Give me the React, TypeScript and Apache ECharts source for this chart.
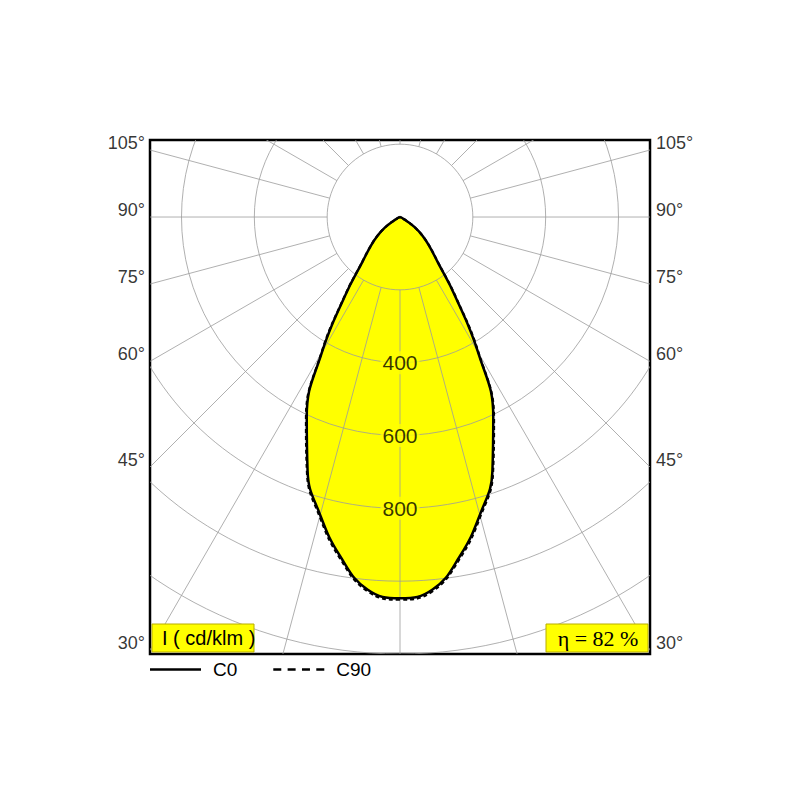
import React, { useEffect, useRef } from "react";
import * as echarts from "echarts";

// Photometric data (gamma angle from nadir, intensity in cd/klm)
const gammaAngles = [0, 5, 10, 15, 20, 25, 30, 35, 40, 45, 50, 55, 60, 65, 70, 75, 80, 85, 90];
const c0Values = [1047, 1027, 946, 847, 742, 606, 429, 262, 160, 115, 82, 50, 20, 5, 0, 0, 0, 0, 0];
const c90Values = [1051, 1031, 951, 852, 747, 611, 433, 265, 162, 116, 82, 50, 20, 5, 0, 0, 0, 0, 0];

// Grid
const ringValues = [200, 400, 600, 800, 1000, 1200, 1400];
const ringLabelValues = [400, 600, 800];
const radialAngles = [0, 15, 30, 45, 60, 75, 90, 105, 120, 135, 150, 165, 180, 195, 210, 225, 240, 255, 270, 285, 300, 315, 330, 345];
const sideAngleLabels = [105, 90, 75, 60, 45, 30];

const seriesNames = ["C0", "C90"];
const unitLabel = "I ( cd/klm )";
const efficiencyLabel = "η = 82 %";

const X_MAX = 686.5;
const Y_MIN = -1200;
const Y_MAX = 211.5;
const INNER_R = 200;
const OUTER_R = 2200;
const SMOOTH = 0.45;

const rad = (d: number) => (d * Math.PI) / 180;
const toXY = (gamma: number, I: number, side: number) => [
  side * I * Math.sin(rad(gamma)),
  -I * Math.cos(rad(gamma)),
];

function curvePoints(values: number[]) {
  const raw: number[][] = [];
  for (let i = gammaAngles.length - 1; i >= 0; i--) raw.push(toXY(gammaAngles[i], values[i], -1));
  for (let i = 1; i < gammaAngles.length; i++) raw.push(toXY(gammaAngles[i], values[i], 1));
  const pts: number[][] = [];
  raw.forEach((p) => {
    const last = pts[pts.length - 1];
    if (!last || Math.abs(last[0] - p[0]) > 1e-9 || Math.abs(last[1] - p[1]) > 1e-9) pts.push(p);
  });
  return pts;
}

const SANS = "Liberation Sans, Arial, Helvetica, sans-serif";
const SERIF = "Liberation Serif, Times New Roman, serif";
const GRID_COLOR = "#9c9c9c";

export default function App() {
  const ref = useRef<HTMLDivElement>(null);

  useEffect(() => {
    document.body.style.margin = "0";
    if (!ref.current) return;
    const chart = echarts.init(ref.current, undefined, { renderer: "svg" });

    const c0Pts = curvePoints(c0Values);
    const c90Pts = curvePoints(c90Values);

    const sideLabelData = sideAngleLabels.map((a) => [X_MAX, -X_MAX / Math.tan(rad(a)), a]);

    const option: any = {
      animation: false,
      backgroundColor: "#ffffff",
      grid: {
        left: 150,
        top: 140,
        width: 500,
        height: 514,
        show: true,
        borderColor: "#000000",
        borderWidth: 2.5,
        backgroundColor: "transparent",
      },
      xAxis: { type: "value", min: -X_MAX, max: X_MAX, show: false },
      yAxis: { type: "value", min: Y_MIN, max: Y_MAX, show: false },
      legend: {
        data: [
          { name: seriesNames[0], icon: "path://M0,0H51V2.5H0Z" },
          {
            name: seriesNames[1],
            icon: "path://M0,0H8V2.5H0ZM14.33,0H22.33V2.5H14.33ZM28.67,0H36.67V2.5H28.67ZM43,0H51V2.5H43Z",
          },
        ],
        left: 145,
        top: 655,
        itemWidth: 51,
        itemHeight: 2.5,
        itemGap: 36,
        symbolKeepAspect: false,
        textStyle: { fontSize: 19, color: "#000", fontFamily: SANS, padding: [0, 0, 0, 7] },
        selectedMode: false,
      },
      series: [
        {
          type: "line",
          name: "fill",
          z: 1,
          silent: true,
          symbol: "none",
          smooth: SMOOTH,
          data: c0Pts,
          lineStyle: { width: 0, color: "#ffff00" },
          areaStyle: { color: "#ffff00", opacity: 1 },
        },
        {
          type: "custom",
          name: "rings",
          z: 2,
          clip: true,
          silent: true,
          data: ringValues.map((v) => [v, 0]),
          renderItem: (params: any, api: any) => {
            const R = api.value(0);
            const c = api.coord([0, 0]);
            const e = api.coord([R, 0]);
            return {
              type: "circle",
              shape: { cx: c[0], cy: c[1], r: e[0] - c[0] },
              style: { fill: "none", stroke: GRID_COLOR, lineWidth: 0.8 },
            };
          },
        },
        {
          type: "custom",
          name: "radials",
          z: 2,
          clip: true,
          silent: true,
          data: radialAngles.map((a) => [a, 0]),
          renderItem: (params: any, api: any) => {
            const a = api.value(0);
            const p1 = api.coord(toXY(a, INNER_R, 1));
            const p2 = api.coord(toXY(a, OUTER_R, 1));
            return {
              type: "line",
              shape: { x1: p1[0], y1: p1[1], x2: p2[0], y2: p2[1] },
              style: { stroke: GRID_COLOR, lineWidth: 0.8 },
            };
          },
        },
        {
          type: "line",
          name: seriesNames[0],
          z: 3,
          symbol: "none",
          smooth: SMOOTH,
          data: c0Pts,
          lineStyle: { color: "#000", width: 2.5, type: "solid" },
          itemStyle: { color: "#000" },
        },
        {
          type: "line",
          name: seriesNames[1],
          z: 4,
          symbol: "none",
          smooth: SMOOTH,
          data: c90Pts,
          lineStyle: { color: "#000", width: 2.2, type: [4, 3] },
          itemStyle: { color: "#000" },
        },
        {
          type: "scatter",
          name: "ringLabels",
          z: 5,
          clip: false,
          silent: true,
          symbolSize: 0,
          data: ringLabelValues.map((v) => [0, -v, v]),
          label: {
            show: true,
            position: "inside",
            formatter: (p: any) => String(p.value[2]),
            fontSize: 21,
            color: "#000",
            fontFamily: SANS,
            backgroundColor: "#ffff00",
            padding: [1, 2],
          },
        },
        {
          type: "scatter",
          name: "leftAngleLabels",
          z: 5,
          clip: false,
          silent: true,
          symbolSize: 0,
          data: sideLabelData.map((d) => [-d[0], d[1], d[2]]),
          label: {
            show: true,
            position: "left",
            distance: 5,
            offset: [0, -7],
            formatter: (p: any) => p.value[2] + "°",
            fontSize: 18,
            color: "#000",
            fontFamily: SANS,
          },
        },
        {
          type: "scatter",
          name: "rightAngleLabels",
          z: 5,
          clip: false,
          silent: true,
          symbolSize: 0,
          data: sideLabelData,
          label: {
            show: true,
            position: "right",
            distance: 6,
            offset: [0, -7],
            formatter: (p: any) => p.value[2] + "°",
            fontSize: 18,
            color: "#000",
            fontFamily: SANS,
          },
        },
      ],
      graphic: [
        {
          type: "rect",
          z: 100,
          shape: { x: 152, y: 624, width: 102, height: 28 },
          style: { fill: "#ffff00", stroke: "#b8ad00", lineWidth: 1 },
        },
        {
          type: "text",
          z: 101,
          x: 162,
          y: 638,
          style: {
            text: unitLabel,
            fontSize: 20,
            fontFamily: SANS,
            fill: "#000",
            verticalAlign: "middle",
            align: "left",
          },
        },
        {
          type: "rect",
          z: 100,
          shape: { x: 546, y: 624, width: 102, height: 28 },
          style: { fill: "#ffff00", stroke: "#b8ad00", lineWidth: 1 },
        },
        {
          type: "text",
          z: 101,
          x: 598,
          y: 638,
          style: {
            text: efficiencyLabel,
            fontSize: 22,
            fontFamily: SERIF,
            fill: "#000",
            verticalAlign: "middle",
            align: "center",
          },
        },
      ],
    };

    chart.setOption(option);
    return () => chart.dispose();
  }, []);

  return <div ref={ref} style={{ width: 800, height: 800 }} />;
}
